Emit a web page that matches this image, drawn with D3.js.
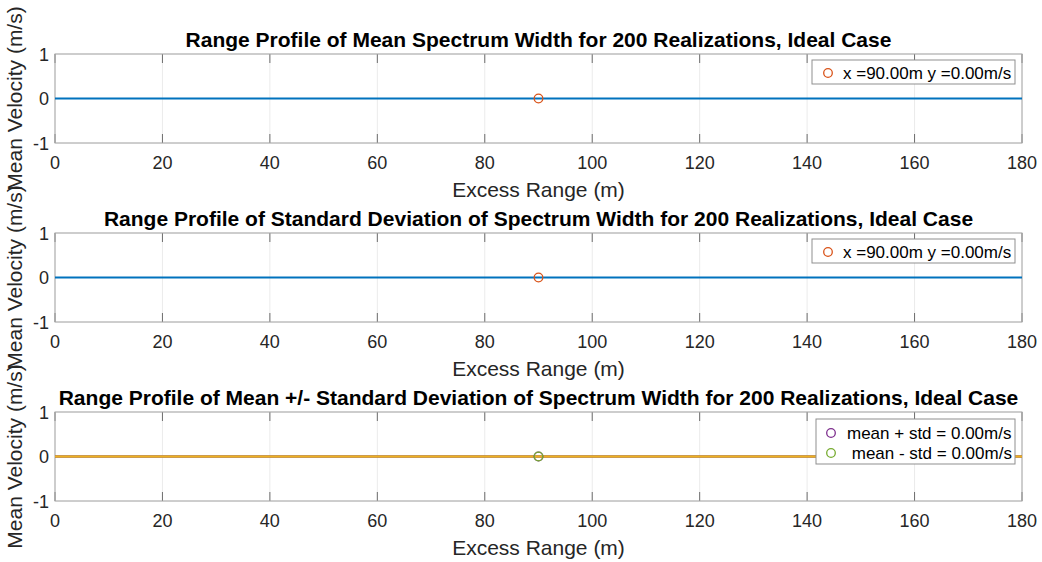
<!DOCTYPE html>
<html>
<head>
<meta charset="utf-8">
<script src="https://cdn.jsdelivr.net/npm/d3@7"></script>
<style>
  html, body { margin: 0; padding: 0; background: #fff; }
  svg { display: block; font-family: "Liberation Sans", Arial, Helvetica, sans-serif; }
</style>
</head>
<body>
<svg id="chart" width="1042" height="562"></svg>
<script>
// Range profile statistics of spectrum width, ideal case (200 realizations)
const excessRange   = [0, 20, 40, 60, 80, 100, 120, 140, 160, 180];
const meanWidth     = [0, 0, 0, 0, 0, 0, 0, 0, 0, 0];
const stdWidth      = [0, 0, 0, 0, 0, 0, 0, 0, 0, 0];
const meanPlusStd   = [0, 0, 0, 0, 0, 0, 0, 0, 0, 0];
const meanMinusStd  = [0, 0, 0, 0, 0, 0, 0, 0, 0, 0];

const xTicks = [0, 20, 40, 60, 80, 100, 120, 140, 160, 180];
const yTicks = [-1, 0, 1];

const titles = [
  "Range Profile of Mean Spectrum Width for 200 Realizations, Ideal Case",
  "Range Profile of Standard Deviation of Spectrum Width for 200 Realizations, Ideal Case",
  "Range Profile of Mean +/- Standard Deviation of Spectrum Width for 200 Realizations, Ideal Case"
];
const xLabel = "Excess Range (m)";
const yLabel = "Mean Velocity (m/s)";

// data-tip style markers at the profile midpoint
const markerX = 90;
const markerY1 = 0;
const markerY2 = 0;
const markerPlus = 0;
const markerMinus = 0;

const C = {
  blue: "#0072BD", orange: "#D95319", yellow: "#EDB120",
  purple: "#7E2F8E", green: "#77AC30",
  text: "#262626", box: "#a6a6a6", tick: "#6e6e6e", grid: "#ebebeb"
};

const svg = d3.select("#chart");
const left = 55, right = 1022, plotH = 89;
const tops = [54, 233, 412];

const x = d3.scaleLinear().domain([0, 180]).range([left, right]);

function panel(top, title, lines, markers, legendRows, legendBox) {
  const y = d3.scaleLinear().domain([-1, 1]).range([top + plotH, top]);
  const g = svg.append("g");

  // grid
  g.selectAll(".gx").data(xTicks).join("line")
    .attr("x1", d => x(d)).attr("x2", d => x(d))
    .attr("y1", top).attr("y2", top + plotH)
    .attr("stroke", C.grid).attr("stroke-width", 1);
  g.selectAll(".gy").data(yTicks).join("line")
    .attr("x1", left).attr("x2", right)
    .attr("y1", d => y(d)).attr("y2", d => y(d))
    .attr("stroke", C.grid).attr("stroke-width", 1);

  // inward tick marks on bottom and top
  const tl = 9;
  g.selectAll(".tb").data(xTicks).join("line")
    .attr("x1", d => x(d)).attr("x2", d => x(d))
    .attr("y1", top + plotH).attr("y2", top + plotH - tl)
    .attr("stroke", C.tick);
  g.selectAll(".tt").data(xTicks).join("line")
    .attr("x1", d => x(d)).attr("x2", d => x(d))
    .attr("y1", top).attr("y2", top + tl)
    .attr("stroke", C.tick);

  // box
  g.append("rect").attr("x", left).attr("y", top)
    .attr("width", right - left).attr("height", plotH)
    .attr("fill", "none").attr("stroke", C.box).attr("stroke-width", 1);

  // tick labels
  g.selectAll(".xl").data(xTicks).join("text")
    .attr("x", d => x(d)).attr("y", top + plotH + 26)
    .attr("text-anchor", "middle").attr("font-size", 18).attr("fill", C.text)
    .text(d => d);
  g.selectAll(".yl").data(yTicks).join("text")
    .attr("x", 49).attr("y", d => y(d) + 6.5)
    .attr("text-anchor", "end").attr("font-size", 18).attr("fill", C.text)
    .text(d => d);

  // axis labels
  g.append("text").attr("x", (left + right) / 2).attr("y", top + plotH + 54)
    .attr("text-anchor", "middle").attr("font-size", 21).attr("fill", C.text)
    .text(xLabel);
  g.append("text")
    .attr("transform", `translate(22,${top + plotH / 2}) rotate(-90)`)
    .attr("text-anchor", "middle").attr("font-size", 21).attr("fill", C.text)
    .text(yLabel);

  // title
  g.append("text").attr("x", (left + right) / 2).attr("y", top - 7)
    .attr("text-anchor", "middle").attr("font-size", 21).attr("font-weight", "bold")
    .attr("fill", "#000").text(title);

  // profiles
  const line = d3.line().x((d, i) => x(excessRange[i])).y(d => y(d));
  lines.forEach(l => {
    g.append("path").datum(l.values).attr("d", line)
      .attr("fill", "none").attr("stroke", l.color).attr("stroke-width", 2);
  });

  // markers
  markers.forEach(m => {
    g.append("circle").attr("cx", x(m.x)).attr("cy", y(m.y)).attr("r", 4.3)
      .attr("fill", "none").attr("stroke", m.color).attr("stroke-width", 1.3);
  });

  // legend
  g.append("rect").attr("x", legendBox.x).attr("y", top + legendBox.dy)
    .attr("width", legendBox.w).attr("height", legendBox.h)
    .attr("fill", "#fff").attr("stroke", "#8f8f8f").attr("stroke-width", 1);
  legendRows.forEach((r, i) => {
    const ry = top + legendBox.dy + legendBox.rowStart + i * 20;
    g.append("circle").attr("cx", legendBox.mx).attr("cy", ry).attr("r", 4.3)
      .attr("fill", "none").attr("stroke", r.color).attr("stroke-width", 1.3);
    g.append("text").attr("x", legendBox.tx).attr("y", ry + 6)
      .attr("font-size", 17).attr("fill", "#000")
      .attr("xml:space", "preserve").style("white-space", "pre")
      .text(r.label);
  });
}

panel(tops[0], titles[0],
  [{ values: meanWidth, color: C.blue }],
  [{ x: markerX, y: markerY1, color: C.orange }],
  [{ label: `x =${markerX.toFixed(2)}m y =${markerY1.toFixed(2)}m/s`, color: C.orange }],
  { x: 812, dy: 6, w: 203, h: 24, rowStart: 13, mx: 828, tx: 843 });

panel(tops[1], titles[1],
  [{ values: stdWidth, color: C.blue }],
  [{ x: markerX, y: markerY2, color: C.orange }],
  [{ label: `x =${markerX.toFixed(2)}m y =${markerY2.toFixed(2)}m/s`, color: C.orange }],
  { x: 812, dy: 6, w: 203, h: 24, rowStart: 13, mx: 828, tx: 843 });

panel(tops[2], titles[2],
  [{ values: meanPlusStd, color: C.blue },
   { values: meanPlusStd, color: C.orange },
   { values: meanMinusStd, color: C.yellow }],
  [{ x: markerX, y: markerPlus, color: C.purple },
   { x: markerX, y: markerMinus, color: C.green }],
  [{ label: `mean + std = ${markerPlus.toFixed(2)}m/s`, color: C.purple },
   { label: ` mean - std = ${markerMinus.toFixed(2)}m/s`, color: C.green }],
  { x: 816, dy: 7, w: 199, h: 45, rowStart: 14, mx: 831, tx: 847 });
</script>
</body>
</html>
